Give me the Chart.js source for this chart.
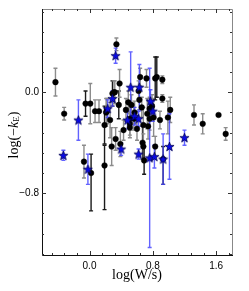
<!DOCTYPE html>
<html>
<head>
<meta charset="utf-8">
<script src="https://cdn.jsdelivr.net/npm/chart.js@4.4.0/dist/chart.umd.min.js"></script>
<style>
  html, body { margin: 0; padding: 0; background: #fff; }
  #wrap { width: 249px; height: 291px; }
</style>
</head>
<body>
<div id="wrap"><canvas id="plot"></canvas></div>
<script>
// black circles, error bars up / down
var circX = [-0.43,-0.32,-0.07,-0.05,0.01, 0.02,0.07,0.12,0.19,0.19, 0.21,0.22,0.26,0.28,0.29, 0.31,0.32,0.33,0.34,0.37,
             0.38,0.39,0.43,0.46,0.49, 0.51,0.51,0.51,0.53,0.56, 0.57,0.60,0.62,0.63,0.64, 0.66,0.67,0.68,0.68,0.69,
             0.72,0.73,0.74,0.76,0.76, 0.79,0.81,0.83,0.85,0.92, 0.92,0.89,0.93,0.99,1.02, 1.32,1.43,1.63,1.72,0.83];
var circY = [0.08,-0.17,-0.55,-0.09,-0.09, -0.64,-0.15,-0.15,-0.26,-0.58, -0.16,-0.15,-0.22,-0.43,-0.01, 0.0,0.0,-0.37,0.38,-0.10,
             0.07,-0.41,-0.30,-0.14,-0.08, -0.25,-0.28,-0.21,-0.10,-0.21, -0.16,-0.29,0.01,-0.06,0.12, -0.12,-0.40,-0.26,-0.43,-0.54,
             0.11,-0.17,-0.27,-0.13,-0.21, -0.11,-0.20,0.11,0.12,0.10, -0.05,-0.22,-0.53,-0.20,-0.14, -0.18,-0.25,-0.18,-0.33,-0.43];
var circErrUp = [0.11,0.05,0.13,0.10,0.16, 0.15,0.09,0.09,0.15,0.16, 0.11,0.10,0.14,0.15,0.10, 0.09,0.09,0.09,0.05,0.11,
                 0.11,0.10,0.08,0.09,0.09, 0.09,0.08,0.09,0.08,0.09, 0.09,0.09,0.08,0.08,0.07, 0.08,0.13,0.14,0.10,0.11,
                 0.07,0.12,0.10,0.09,0.09, 0.09,0.15,0.17,0.16,0.03, 0.03,0.07,0.10,0.13,0.10, 0.08,0.08,0.01,0.05,0.08];
var circErrDn = [0.11,0.05,0.13,0.10,0.16, 0.30,0.09,0.09,0.15,0.35, 0.11,0.10,0.14,0.15,0.10, 0.09,0.09,0.09,0.05,0.11,
                 0.11,0.10,0.08,0.09,0.09, 0.09,0.08,0.09,0.08,0.09, 0.09,0.09,0.08,0.08,0.07, 0.08,0.13,0.14,0.10,0.11,
                 0.07,0.12,0.10,0.09,0.09, 0.09,0.15,0.17,0.16,0.03, 0.03,0.07,0.20,0.13,0.10, 0.08,0.08,0.01,0.05,0.08];

// blue stars, symmetric error bars
var starX = [-0.33,-0.14,-0.02,0.29,0.23, 0.33,0.40,0.48,0.52,0.57, 0.62,0.62,0.63,0.76,0.77, 0.80,0.82,0.93,1.01,1.20];
var starY = [-0.50,-0.22,-0.61,-0.05,-0.13, 0.29,-0.45,-0.22,0.04,-0.19, -0.21,-0.49,0.04,-0.52,-0.07, -0.15,-0.51,-0.53,-0.43,-0.36];
var starErr = [0.04,0.16,0.12,0.06,0.07, 0.06,0.05,0.07,0.28,0.07, 0.06,0.04,0.18,0.71,0.09, 0.08,0.09,0.20,0.26,0.06];

var xTicks = [0.0, 0.8, 1.6];
var yTicks = [-0.8, 0.0];

// circles whose error bars are drawn black instead of grey
var darkBars = [3, 5, 8, 9, 14, 19, 36, 39, 47, 48, 52];

function pts(xs, ys) {
  return xs.map(function (v, i) { return { x: v, y: ys[i] }; });
}

// filled five point star for the blue markers
var starImg = document.createElement('canvas');
starImg.width = 11; starImg.height = 11;
(function () {
  var c = starImg.getContext('2d');
  c.beginPath();
  for (var k = 0; k < 10; k++) {
    var r = (k % 2 === 0) ? 4.8 : 2.0;
    var a = -Math.PI / 2 + k * Math.PI / 5;
    c.lineTo(5.5 + r * Math.cos(a), 5.9 + r * Math.sin(a));
  }
  c.closePath();
  c.fillStyle = '#0a0ae6';
  c.fill();
  c.lineWidth = 0.8;
  c.strokeStyle = '#000050';
  c.stroke();
})();

var fmt = function (v) { return v.toFixed(1).replace('-', '\u2212'); };

var errPlugin = {
  id: 'errbars',
  beforeDatasetsDraw: function (chart) {
    var ctx = chart.ctx, sx = chart.scales.x, sy = chart.scales.y;
    function bar(xv, yv, up, dn, col) {
      var px = sx.getPixelForValue(xv);
      var p1 = sy.getPixelForValue(yv + up), p2 = sy.getPixelForValue(yv - dn);
      ctx.strokeStyle = col;
      ctx.beginPath();
      ctx.moveTo(px, p1); ctx.lineTo(px, p2);
      ctx.moveTo(px - 2, p1); ctx.lineTo(px + 2, p1);
      ctx.moveTo(px - 2, p2); ctx.lineTo(px + 2, p2);
      ctx.stroke();
    }
    ctx.save();
    ctx.lineWidth = 1.4;
    circX.forEach(function (v, i) {
      bar(v, circY[i], circErrUp[i], circErrDn[i], darkBars.indexOf(i) >= 0 ? '#1a1a1a' : '#8c8c8c');
    });
    starX.forEach(function (v, i) {
      bar(v, starY[i], starErr[i], starErr[i], 'rgba(70,70,255,0.85)');
    });
    ctx.restore();
  },
  afterDraw: function (chart) {
    var ctx = chart.ctx, a = chart.chartArea, sx = chart.scales.x, sy = chart.scales.y;
    ctx.save();
    // frame
    ctx.lineWidth = 1;
    ctx.strokeStyle = '#888';
    ctx.beginPath();
    ctx.moveTo(a.left, a.top + 0.5); ctx.lineTo(a.right + 0.5, a.top + 0.5); ctx.lineTo(a.right + 0.5, a.bottom);
    ctx.stroke();
    ctx.strokeStyle = '#111';
    ctx.beginPath();
    ctx.moveTo(a.left + 0.5, a.top); ctx.lineTo(a.left + 0.5, a.bottom + 0.5); ctx.lineTo(a.right + 1, a.bottom + 0.5);
    ctx.stroke();
    // inward ticks on all sides
    ctx.strokeStyle = '#333';
    ctx.beginPath();
    var v, p, len;
    for (var k = -5; k <= 12; k++) {
      v = k * 0.16;
      if (v < sx.min || v > sx.max) continue;
      p = Math.round(sx.getPixelForValue(v)) + 0.5;
      len = (k % 5 === 0) ? 4 : 2;
      ctx.moveTo(p, a.bottom); ctx.lineTo(p, a.bottom - len);
      ctx.moveTo(p, a.top); ctx.lineTo(p, a.top + len);
    }
    for (k = -10; k <= 5; k++) {
      v = k * 0.16;
      if (v < sy.min || v > sy.max) continue;
      p = Math.round(sy.getPixelForValue(v)) + 0.5;
      len = (k % 5 === 0) ? 4 : 2;
      ctx.moveTo(a.left, p); ctx.lineTo(a.left + len, p);
      ctx.moveTo(a.right, p); ctx.lineTo(a.right - len, p);
    }
    ctx.stroke();
    // axis titles
    ctx.fillStyle = '#000';
    ctx.textAlign = 'center';
    ctx.textBaseline = 'middle';
    ctx.font = '14px "Liberation Serif"';
    ctx.fillText('log(W/s)', (a.left + a.right) / 2, 275);
    ctx.translate(14, (a.top + a.bottom) / 2 + 3);
    ctx.rotate(-Math.PI / 2);
    ctx.textAlign = 'left';
    var parts = [
      ['log(\u2212', '14px "Liberation Serif"', 0],
      ['k', 'italic 14px "Liberation Serif"', 0],
      ['E', '9px "Liberation Serif"', 3],
      [')', '14px "Liberation Serif"', 0]
    ];
    var total = 0;
    parts.forEach(function (q) { ctx.font = q[1]; total += ctx.measureText(q[0]).width; });
    var xx = -total / 2;
    parts.forEach(function (q) {
      ctx.font = q[1];
      ctx.fillText(q[0], xx, q[2]);
      xx += ctx.measureText(q[0]).width;
    });
    ctx.restore();
  }
};

new Chart(document.getElementById('plot'), {
  type: 'scatter',
  data: {
    datasets: [{
      data: pts(starX, starY),
      pointStyle: starImg,
      order: 0
    }, {
      data: pts(circX, circY),
      pointStyle: 'circle',
      pointRadius: 2.8,
      pointBackgroundColor: '#000',
      pointBorderColor: '#000',
      pointBorderWidth: 0.5,
      order: 1
    }]
  },
  options: {
    responsive: true,
    maintainAspectRatio: false,
    animation: false,
    layout: { padding: { left: 0, right: 17, top: 7, bottom: 0 } },
    plugins: { legend: { display: false }, tooltip: { enabled: false } },
    scales: {
      x: {
        type: 'linear', min: -0.6, max: 1.8,
        afterBuildTicks: function (s) { s.ticks = xTicks.map(function (t) { return { value: t }; }); },
        afterFit: function (s) { s.height = 36; },
        grid: { display: false, drawTicks: false },
        border: { display: false },
        ticks: { padding: 5, color: '#000', font: { family: 'Liberation Sans', size: 10 }, maxRotation: 0,
                 callback: function (v) { return fmt(v); } }
      },
      y: {
        type: 'linear', min: -1.29, max: 0.66,
        afterBuildTicks: function (s) { s.ticks = yTicks.map(function (t) { return { value: t }; }); },
        afterFit: function (s) { s.width = 42; },
        grid: { display: false, drawTicks: false },
        border: { display: false },
        ticks: { padding: 3, color: '#000', font: { family: 'Liberation Sans', size: 10 },
                 callback: function (v) { return fmt(v); } }
      }
    }
  },
  plugins: [errPlugin]
});
</script>
</body>
</html>
